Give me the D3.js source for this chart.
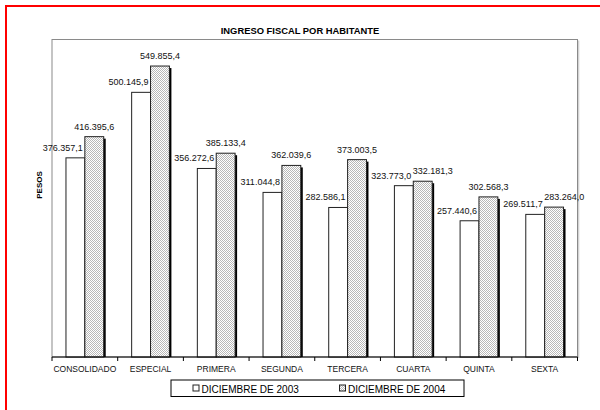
<!DOCTYPE html>
<html>
<head>
<meta charset="utf-8">
<script src="https://cdn.jsdelivr.net/npm/d3@7"></script>
<style>
  html, body { margin: 0; padding: 0; background: #fff; }
  svg { display: block; font-family: Arial, "Liberation Sans", sans-serif; }
</style>
</head>
<body>
<svg id="chart" width="600" height="410"></svg>
<script>
const title = "INGRESO FISCAL POR HABITANTE";
const yTitle = "PESOS";
const categories = ["CONSOLIDADO", "ESPECIAL", "PRIMERA", "SEGUNDA", "TERCERA", "CUARTA", "QUINTA", "SEXTA"];
const seriesNames = ["DICIEMBRE DE 2003", "DICIEMBRE DE 2004"];
const values2003 = [376357.1, 500145.9, 356272.6, 311044.8, 282586.1, 323773.0, 257440.6, 269511.7];
const values2004 = [416395.6, 549855.4, 385133.4, 362039.6, 373003.5, 332181.3, 302568.3, 283264.0];
const yMax = 600000;

const svg = d3.select("#chart");
const W = 600, H = 410;
const plot = { left: 52, right: 577.5, top: 39.5, bottom: 357 };

const locale = d3.formatLocale({ decimal: ",", thousands: ".", grouping: [3], currency: ["", ""] });
const fmt = locale.format(",.1f");

// pattern for 2004 series
const defs = svg.append("defs");
const pat = defs.append("pattern").attr("id", "dots").attr("patternUnits", "userSpaceOnUse")
  .attr("width", 2).attr("height", 2);
pat.append("rect").attr("width", 2).attr("height", 2).attr("fill", "#ffffff");
pat.append("rect").attr("x", 0).attr("y", 0).attr("width", 1).attr("height", 1).attr("fill", "#b8b8b8");
pat.append("rect").attr("x", 1).attr("y", 1).attr("width", 1).attr("height", 1).attr("fill", "#b8b8b8");

// red outer border
svg.append("rect").attr("x", 6).attr("y", 6).attr("width", W + 20).attr("height", H + 20)
  .attr("fill", "none").attr("stroke", "#ff0000").attr("stroke-width", 2);

// title
svg.append("text").attr("x", 300).attr("y", 34).attr("text-anchor", "middle")
  .attr("font-size", "9.4px").attr("font-weight", "bold").attr("fill", "#000").text(title);

// plot frame
svg.append("line").attr("x1", plot.right + 1.2).attr("x2", plot.right + 1.2)
  .attr("y1", plot.top + 1).attr("y2", plot.bottom + 1).attr("stroke", "#cfcfcf").attr("stroke-width", 1.2);
svg.append("rect").attr("x", plot.left).attr("y", plot.top)
  .attr("width", plot.right - plot.left).attr("height", plot.bottom - plot.top)
  .attr("fill", "#fff").attr("stroke", "#8a8a8a").attr("stroke-width", 1);

const x0 = d3.scaleBand().domain(categories).range([plot.left, plot.right]).paddingInner(0).paddingOuter(0);
const x1 = d3.scaleBand().domain(seriesNames).range([0, x0.bandwidth()]).paddingInner(0).paddingOuter(0.74);
const y = d3.scaleLinear().domain([0, yMax]).range([plot.bottom, plot.top]);

const rows = categories.map((c, i) => ({ cat: c, vals: [values2003[i], values2004[i]] }));
const bars = [];
rows.forEach(r => r.vals.forEach((v, j) => bars.push({ cat: r.cat, s: seriesNames[j], j: j, v: v })));

const g = svg.append("g");
// shadows
g.selectAll("rect.shadow").data(bars).join("rect").attr("class", "shadow")
  .attr("x", d => x0(d.cat) + x1(d.s) + 2)
  .attr("y", d => y(d.v) + 2)
  .attr("width", x1.bandwidth())
  .attr("height", d => y(0) - y(d.v) - 2)
  .attr("fill", "#000");
// bars
g.selectAll("rect.bar").data(bars).join("rect").attr("class", "bar")
  .attr("x", d => x0(d.cat) + x1(d.s))
  .attr("y", d => y(d.v))
  .attr("width", x1.bandwidth())
  .attr("height", d => y(0) - y(d.v))
  .attr("fill", d => d.j === 0 ? "#ffffff" : "url(#dots)")
  .attr("stroke", "#222").attr("stroke-width", 1);

// value labels
const labels = g.selectAll("text.val").data(bars).join("text").attr("class", "val")
  .attr("x", d => d.j === 0 ? x0(d.cat) + x1(d.s) + x1.bandwidth() - 2 : x0(d.cat) + x1(d.s) + x1.bandwidth() / 2)
  .attr("y", d => y(d.v) - 7)
  .attr("text-anchor", d => d.j === 0 ? "end" : "middle")
  .attr("font-size", "9px").attr("fill", "#111")
  .text(d => fmt(d.v));

// resolve overlaps: push the 2004 label to the right of the 2003 label
const nodes = labels.nodes();
for (let i = 0; i < nodes.length; i += 2) {
  const a = nodes[i].getBBox(), b = nodes[i + 1].getBBox();
  const overlapX = a.x + a.width > b.x - 1;
  const overlapY = a.y < b.y + b.height && b.y < a.y + a.height;
  if (overlapX && overlapY) {
    const shift = a.x + a.width + 1.5 - b.x;
    d3.select(nodes[i + 1]).attr("x", +d3.select(nodes[i + 1]).attr("x") + shift);
  }
}

// x axis line and boundary ticks
svg.append("line").attr("x1", plot.left).attr("x2", plot.right).attr("y1", plot.bottom).attr("y2", plot.bottom)
  .attr("stroke", "#000").attr("stroke-width", 1);
const edges = categories.map(c => x0(c)).concat([x0.range()[1]]);
svg.selectAll("line.edge").data(edges).join("line").attr("class", "edge")
  .attr("x1", d => d).attr("x2", d => d).attr("y1", plot.bottom).attr("y2", plot.bottom + 4)
  .attr("stroke", "#000").attr("stroke-width", 1);

// category labels
const ax = svg.append("g").attr("transform", `translate(0,${plot.bottom})`)
  .call(d3.axisBottom(x0).tickSize(0).tickPadding(9));
ax.select(".domain").remove();
ax.selectAll("text").attr("font-size", "8.5px").attr("fill", "#111")
  .attr("font-family", "Arial, 'Liberation Sans', sans-serif");

// y title
svg.append("text").attr("transform", "translate(42,185) rotate(-90)").attr("text-anchor", "middle")
  .attr("font-size", "8px").attr("font-weight", "bold").attr("fill", "#000").text(yTitle);

// legend
const lg = svg.append("g");
lg.append("rect").attr("x", 171).attr("y", 380).attr("width", 293).attr("height", 16.5)
  .attr("fill", "#fff").attr("stroke", "#000").attr("stroke-width", 1);
const legX = [193, 339.5];
seriesNames.forEach((s, j) => {
  lg.append("rect").attr("x", legX[j]).attr("y", 385).attr("width", 6).attr("height", 6)
    .attr("fill", j === 0 ? "#fff" : "url(#dots)").attr("stroke", "#222").attr("stroke-width", 1);
  lg.append("text").attr("x", legX[j] + 8.5).attr("y", 392.5)
    .attr("font-size", "10px").attr("fill", "#000").text(s);
});
</script>
</body>
</html>
